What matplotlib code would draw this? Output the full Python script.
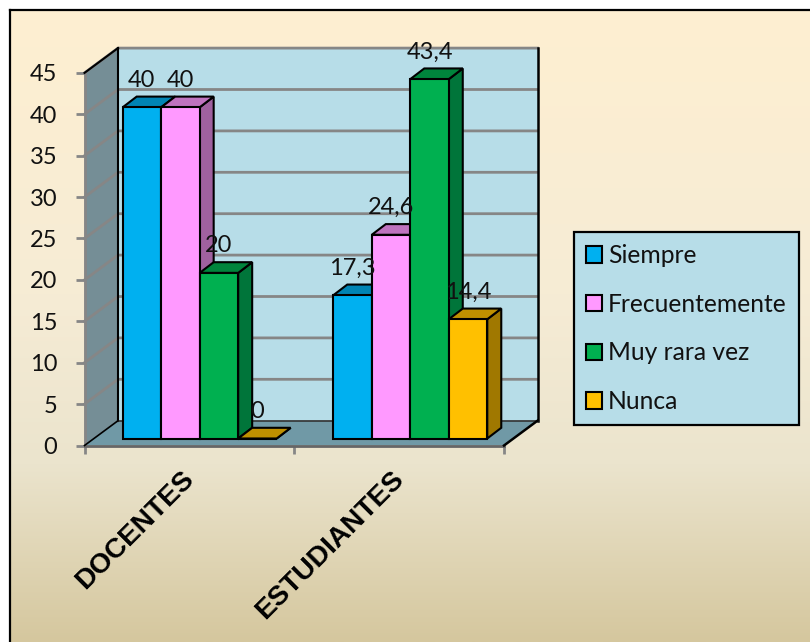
import numpy as np
import matplotlib
matplotlib.use("Agg")
import matplotlib.pyplot as plt
from matplotlib.colors import LinearSegmentedColormap
from matplotlib.lines import Line2D
from matplotlib.patches import Patch, Polygon

categories = ["DOCENTES", "ESTUDIANTES"]
series_names = ["Siempre", "Frecuentemente", "Muy rara vez", "Nunca"]
siempre = [40, 17.3]
frecuentemente = [40, 24.6]
muy_rara_vez = [20, 43.4]
nunca = [0, 14.4]
value_labels = [["40", "17,3"], ["40", "24,6"], ["20", "43,4"], ["0", "14,4"]]
y_ticks = [0, 5, 10, 15, 20, 25, 30, 35, 40, 45]

front_colors = ["#00B0F0", "#FF99FF", "#00B050", "#FFC000"]
top_colors = ["#0084B4", "#BF73BF", "#00843C", "#BF9000"]
side_colors = ["#00759F", "#A0619F", "#00753A", "#A07800"]
WALL = "#B7DDE8"
LEFT_WALL = "#758E96"
FLOOR = "#7099A6"

W, H = 810, 642
plt.rcParams["font.family"] = ["Lato", "DejaVu Sans"]
fig = plt.figure(figsize=(W / 100, H / 100), dpi=100, facecolor="white")

# background gradient inside the frame
bg = fig.add_axes([10 / W, 0, 800 / W, (H - 10) / H], zorder=0)
cmap = LinearSegmentedColormap.from_list(
    "bg",
    [(0, "#FEEFD1"), (0.45, "#F6ECD5"), (0.72, "#EBE4CD"), (1, "#D5C79E")],
)
bg.imshow(np.linspace(0, 1, 256).reshape(-1, 1), aspect="auto", cmap=cmap)
bg.axis("off")
fig.add_artist(Line2D([10 / W, 10 / W], [0, 1 - 10 / H], color="black", lw=1.6))
fig.add_artist(Line2D([10 / W, 1], [1 - 10 / H, 1 - 10 / H], color="black", lw=1.6))

# front plane of the 3d box
left, right = 84.5, 504
y0, y45 = 445.5, 72.9
ax = fig.add_axes([left / W, 1 - y0 / H, (right - left) / W, (y0 - y45) / H], zorder=1)
ax.set_xlim(0, 2)
ax.set_ylim(0, 45)
ax.patch.set_alpha(0)

xu = (right - left) / 2  # px per x unit
yu = (y0 - y45) / 45  # px per value
wall_dx, wall_dy = 33.5 / xu, 24.8 / yu
bar_dx, bar_dy = 14 / xu, 10.7 / yu
lift = 7 / yu
bar_w = 38.5 / xu
group_left = [0.182, 1.186]


def poly(points, color, z, edge="none", lw=0):
    ax.add_patch(Polygon(points, closed=True, facecolor=color, edgecolor=edge, lw=lw, zorder=z, clip_on=False))


# walls and floor
poly([(wall_dx, wall_dy), (2 + wall_dx, wall_dy), (2 + wall_dx, 45 + wall_dy), (wall_dx, 45 + wall_dy)], WALL, 1)
poly([(0, 0), (wall_dx, wall_dy), (wall_dx, 45 + wall_dy), (0, 45)], LEFT_WALL, 1)
poly([(0, 0), (2, 0), (2 + wall_dx, wall_dy), (wall_dx, wall_dy)], FLOOR, 1)

for v in y_ticks[1:]:
    ax.plot([0, wall_dx, 2 + wall_dx], [v, v + wall_dy, v + wall_dy], color="#868686", lw=2, zorder=2, clip_on=False)
ax.plot([wall_dx, wall_dx], [wall_dy, 45 + wall_dy], color="black", lw=1.5, zorder=3, clip_on=False)
ax.plot([2 + wall_dx, 2 + wall_dx], [wall_dy, 45 + wall_dy], color="black", lw=1.8, zorder=3, clip_on=False)
ax.plot([wall_dx, 2 + wall_dx], [wall_dy, wall_dy], color="#333333", lw=1.2, zorder=3, clip_on=False)
ax.plot([0, wall_dx], [45, 45 + wall_dy], color="black", lw=1.5, zorder=3, clip_on=False)
ax.plot([2, 2 + wall_dx], [0, wall_dy], color="black", lw=1.8, zorder=3, clip_on=False)
ax.plot([0, wall_dx], [0, wall_dy], color="black", lw=1.2, zorder=3, clip_on=False)

# bars, left to right so each one hides the side of the previous
all_values = [siempre, frecuentemente, muy_rara_vez, nunca]
z = 4
for g in range(len(categories)):
    for s, values in enumerate(all_values):
        v = values[g]
        x = group_left[g] + s * bar_w
        top = lift + v
        poly([(x + bar_w, lift), (x + bar_w + bar_dx, lift + bar_dy), (x + bar_w + bar_dx, top + bar_dy), (x + bar_w, top)],
             side_colors[s], z, "black", 1.5)
        poly([(x, top), (x + bar_dx, top + bar_dy), (x + bar_w + bar_dx, top + bar_dy), (x + bar_w, top)],
             top_colors[s], z, "black", 1.5)
        ax.bar(x, v, bar_w, bottom=lift, align="edge", color=front_colors[s], edgecolor="black", lw=1.5, zorder=z, clip_on=False)
        ax.annotate(value_labels[s][g], (x + bar_w / 2, top), xytext=(0, 27 * 0.72), textcoords="offset points",
                    ha="center", va="center", fontsize=17, color="#111111", zorder=50, annotation_clip=False)
        z += 1

# axes
for name in ["top", "right"]:
    ax.spines[name].set_visible(False)
ax.spines["left"].set_color("#868686")
ax.spines["left"].set_linewidth(2)
ax.spines["bottom"].set_color("#666666")
ax.spines["bottom"].set_linewidth(2)
ax.set_yticks(y_ticks)
ax.tick_params(axis="y", length=6.5, width=2, color="#868686", labelsize=17, pad=13, labelcolor="#111111")
ax.set_xticks([0, 1, 2])
ax.set_xticklabels([])
ax.tick_params(axis="x", which="major", length=5.5, width=2, color="#868686")
ax.set_xticks([0.462, 1.462], minor=True)
ax.set_xticklabels(categories, minor=True, rotation=45, ha="right", va="top", rotation_mode="anchor",
                   fontsize=20.2, fontweight="bold", family="Liberation Sans", color="black")
ax.tick_params(axis="x", which="minor", length=0, pad=14.5)

handles = [Patch(facecolor=c, edgecolor="black", lw=1.5) for c in front_colors]
leg = ax.legend(handles, series_names, loc="upper left", bbox_to_anchor=(574 / W, 1 - 232 / H),
                bbox_transform=fig.transFigure, borderaxespad=0, fontsize=17.7, frameon=True, fancybox=False,
                facecolor=WALL, edgecolor="black", framealpha=1, handlelength=0.65, handleheight=0.65,
                handletextpad=0.25, labelspacing=1.045, borderpad=0.49, labelcolor="#111111")
leg.get_frame().set_linewidth(1.6)
leg.set_zorder(60)

fig.savefig("out.png", dpi=100)
